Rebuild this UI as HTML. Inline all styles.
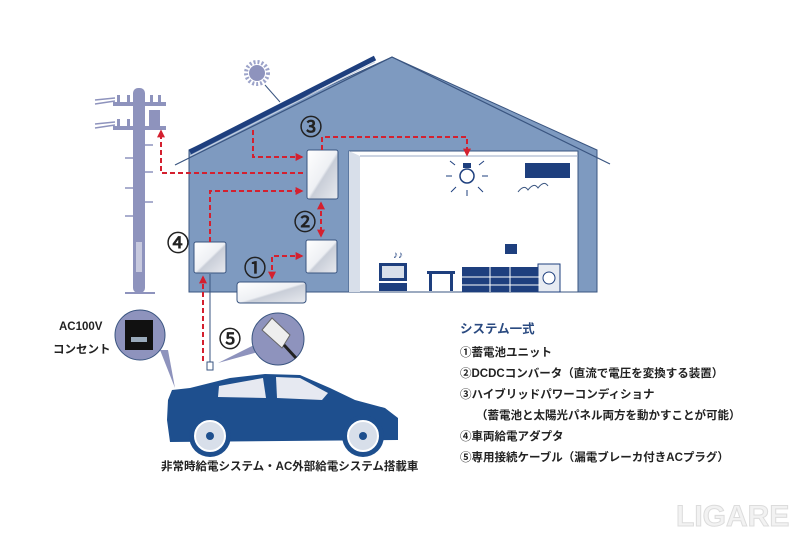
<!DOCTYPE html>
<html><head><meta charset="utf-8"><style>
html,body{margin:0;padding:0;background:#fff;}
svg{display:block;}
text{font-family:"Liberation Sans","Noto Sans CJK JP",sans-serif;}
</style></head><body>
<svg width="800" height="533" viewBox="0 0 800 533" xmlns="http://www.w3.org/2000/svg">
<defs>
<marker id="ar" viewBox="0 0 10 10" refX="8" refY="5" markerWidth="4" markerHeight="4" orient="auto-start-reverse"><path d="M0,0L10,5L0,10z" fill="#d4202f"/></marker>
<linearGradient id="bx" x1="0" y1="0" x2="1" y2="1"><stop offset="0" stop-color="#ffffff"/><stop offset="0.5" stop-color="#eef0f4"/><stop offset="0.55" stop-color="#c9ced8"/><stop offset="1" stop-color="#e8eaef"/></linearGradient>
</defs>
<g fill="#8e93bd">
<rect x="133" y="88" width="12" height="205" rx="5"/>
<rect x="113" y="102" width="53" height="4"/>
<rect x="113" y="126" width="53" height="4"/>
<rect x="117" y="95" width="3" height="8"/><rect x="127" y="95" width="3" height="8"/>
<rect x="150" y="95" width="3" height="8"/><rect x="158" y="95" width="3" height="8"/>
<rect x="117" y="119" width="3" height="8"/><rect x="127" y="119" width="3" height="8"/>
<rect x="149" y="110" width="11" height="17"/>
<rect x="125" y="292" width="30" height="2"/>
</g>
<g stroke="#8e93bd" stroke-width="1.5">
<line x1="95" y1="100" x2="115" y2="98"/><line x1="95" y1="104" x2="115" y2="101"/>
<line x1="95" y1="124" x2="115" y2="122"/><line x1="95" y1="128" x2="115" y2="125"/>
<line x1="145" y1="145" x2="153" y2="145"/><line x1="125" y1="158" x2="133" y2="158"/><line x1="145" y1="172" x2="153" y2="172"/><line x1="125" y1="188" x2="133" y2="188"/><line x1="145" y1="202" x2="153" y2="202"/><line x1="125" y1="216" x2="133" y2="216"/>
</g>
<rect x="136" y="242" width="6" height="30" fill="#fff" opacity=".5"/>
<circle cx="257" cy="73" r="11" fill="none" stroke="#9ca3c9" stroke-width="4" stroke-dasharray="2 2"/>
<circle cx="257" cy="73" r="8" fill="#8e93bd"/>
<line x1="265" y1="85" x2="280" y2="102" stroke="#3a5580" stroke-width="1"/>
<polygon points="189,150 392,57 597,150 597,292 189,292" fill="#7e9ac0" stroke="#3a5580" stroke-width="1"/>
<polyline points="175,165 392,57 610,164" fill="none" stroke="#3a5580" stroke-width="1.2"/>
<line x1="190" y1="152" x2="375" y2="58" stroke="#1e3f7e" stroke-width="5"/>
<line x1="190" y1="156" x2="375" y2="62" stroke="#c8d2e4" stroke-width="1"/>
<rect x="349" y="151" width="229" height="141" fill="#fff" stroke="#3a5580"/>
<polygon points="349,151 360,156 360,292 349,292" fill="#d8dfea"/>
<line x1="360" y1="156" x2="578" y2="156" stroke="#9aa8c4"/>
<rect x="525" y="163" width="45" height="15" fill="#1e3f7e"/>
<path d="M518,192q6,-8 10,-2q6,-8 10,-2q6,-8 10,-2" fill="none" stroke="#3a5580" stroke-width="1"/>
<circle cx="467" cy="176" r="7" fill="none" stroke="#1e3f7e" stroke-width="1.5"/>
<rect x="463" y="163" width="8" height="5" fill="#1e3f7e"/>
<g stroke="#1e3f7e" stroke-width="1"><line x1="452" y1="176" x2="446" y2="176"/><line x1="482" y1="176" x2="488" y2="176"/><line x1="455" y1="165" x2="450" y2="161"/><line x1="479" y1="165" x2="484" y2="161"/><line x1="456" y1="187" x2="451" y2="192"/><line x1="478" y1="187" x2="483" y2="192"/><line x1="467" y1="190" x2="467" y2="196"/></g>
<g fill="#1e3f7e">
<rect x="379" y="263" width="28" height="18"/><rect x="382" y="266" width="22" height="12" fill="#d8dfea"/>
<rect x="379" y="283" width="28" height="8"/>
<rect x="427" y="271" width="28" height="3"/><rect x="429" y="274" width="3" height="17"/><rect x="450" y="274" width="3" height="17"/>
<rect x="462" y="267" width="78" height="25"/>
<rect x="538" y="264" width="22" height="28" fill="#e7ebf2" stroke="#1e3f7e"/>
<circle cx="549" cy="278" r="6" fill="#fff" stroke="#1e3f7e"/>
<rect x="505" y="244" width="12" height="10"/>
</g>
<g stroke="#fff" stroke-width="1"><line x1="462" y1="277" x2="540" y2="277"/><line x1="462" y1="285" x2="540" y2="285"/><line x1="490" y1="267" x2="490" y2="292"/><line x1="510" y1="267" x2="510" y2="292"/></g>
<text x="393" y="258" font-size="10" fill="#1e3f7e">♪♪</text>
<g fill="url(#bx)" stroke="#3a5580" stroke-width="1">
<rect x="307" y="150" width="31" height="49" rx="2"/>
<rect x="306" y="240" width="31" height="33" rx="2"/>
<rect x="194" y="242" width="32" height="31" rx="2"/>
<rect x="237" y="282" width="69" height="21" rx="3"/>
</g>
<g fill="none" stroke="#d4202f" stroke-width="2" stroke-dasharray="5 3">
<polyline points="253,130 253,157 302,157" marker-end="url(#ar)"/>
<polyline points="303,173 161,173 161,131" marker-end="url(#ar)"/>
<polyline points="210,242 210,191 302,191" marker-end="url(#ar)"/>
<polyline points="322,150 322,137 467,137 467,155" marker-end="url(#ar)"/>
<line x1="321" y1="203" x2="321" y2="236" marker-start="url(#ar)" marker-end="url(#ar)"/>
<polyline points="272,278 272,256 302,256" marker-start="url(#ar)" marker-end="url(#ar)"/>
<line x1="203" y1="361" x2="203" y2="277" marker-end="url(#ar)"/>
</g>
<line x1="210" y1="274" x2="210" y2="362" stroke="#3a5580" stroke-width="1"/>
<rect x="207" y="362" width="6" height="8" fill="#fff" stroke="#3a5580"/>
<g font-size="22" fill="#222" stroke="#222" stroke-width="0.8">
<text x="300" y="135">③</text><text x="294" y="230">②</text><text x="167" y="251">④</text><text x="244" y="276">①</text><text x="219" y="347">⑤</text>
</g>
<polygon points="160,350 175,388 168,350" fill="#8e93bd"/>
<circle cx="140" cy="335" r="25" fill="#8e93bd" stroke="#3a5580"/>
<rect x="125" y="320" width="28" height="30" fill="#111"/>
<rect x="131" y="337" width="16" height="5" fill="#9ab"/>
<polygon points="254,345 218,363 258,352" fill="#8e93bd"/>
<circle cx="278" cy="339" r="26" fill="#8e93bd" stroke="#3a5580"/>
<polygon points="262,330 272,318 290,335 282,348" fill="#eee" stroke="#666"/>
<line x1="284" y1="345" x2="296" y2="358" stroke="#222" stroke-width="3"/>
<path d="M167,420 L168,400 L172,390 L190,388 L230,378 L265,374 L300,375 L330,388 L355,400 L385,408 L398,418 L398,440 L170,442 Z" fill="#1e4f8e"/>
<polygon points="219,386 263,378 266,398 218,397" fill="#e6e9f1"/>
<polygon points="276,377 300,378 328,393 322,400 277,398" fill="#e6e9f1"/>
<circle cx="210" cy="436" r="21" fill="#1e4f8e"/>
<circle cx="363" cy="436" r="21" fill="#1e4f8e"/>
<circle cx="210" cy="436" r="15" fill="#d8dfea" stroke="#fff" stroke-width="2"/>
<circle cx="363" cy="436" r="15" fill="#d8dfea" stroke="#fff" stroke-width="2"/>
<circle cx="210" cy="436" r="4" fill="#1e4f8e"/><circle cx="363" cy="436" r="4" fill="#1e4f8e"/>
<g font-size="11.5" font-weight="bold" fill="#222">
<text x="59" y="330">AC100V</text>
<text x="53" y="353">コンセント</text>
<text x="161" y="470">非常時給電システム・AC外部給電システム搭載車</text>
</g>
<text x="460" y="333" font-size="12.5" font-weight="bold" fill="#2a4a80">システム一式</text>
<g font-size="11.5" font-weight="bold" fill="#222">
<text x="460" y="356">①蓄電池ユニット</text>
<text x="460" y="377">②DCDCコンバータ（直流で電圧を変換する装置）</text>
<text x="460" y="398">③ハイブリッドパワーコンディショナ</text>
<text x="476" y="419">（蓄電池と太陽光パネル両方を動かすことが可能）</text>
<text x="460" y="440">④車両給電アダプタ</text>
<text x="460" y="461">⑤専用接続ケーブル（漏電ブレーカ付きACプラグ）</text>
</g>
<text x="676" y="526" font-size="30" font-weight="bold" fill="#f2f2f2" stroke="#dcdcdc" stroke-width="1">LIGARE</text>
</svg>
</body></html>
